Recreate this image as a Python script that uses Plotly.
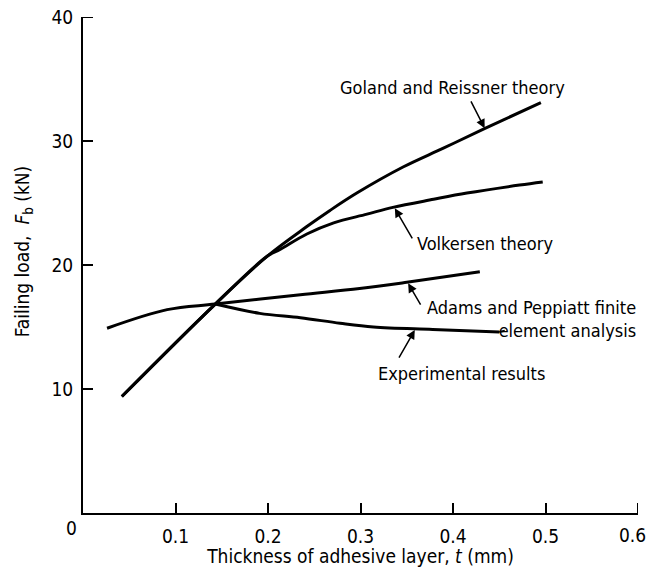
import plotly.graph_objects as go

# ---- data ----
goland_x = [0.042, 0.143, 0.199, 0.242, 0.267, 0.296, 0.346, 0.389, 0.434, 0.495]
goland_y = [9.4, 16.85, 20.7, 23.1, 24.4, 25.8, 27.9, 29.4, 31.0, 33.1]

volk_x = [0.042, 0.143, 0.199, 0.213, 0.242, 0.271, 0.307, 0.335, 0.379, 0.415, 0.472, 0.497]
volk_y = [9.4, 16.85, 20.7, 21.25, 22.5, 23.4, 24.1, 24.65, 25.3, 25.8, 26.45, 26.7]

adams_x = [0.026, 0.091, 0.143, 0.235, 0.299, 0.350, 0.429]
adams_y = [14.9, 16.4, 16.85, 17.6, 18.1, 18.6, 19.45]

exp_x = [0.143, 0.191, 0.235, 0.278, 0.314, 0.378, 0.450]
exp_y = [16.85, 16.1, 15.75, 15.3, 15.0, 14.8, 14.6]

x_ticks = [0.1, 0.2, 0.3, 0.4, 0.5, 0.6]
x_tick_labels = ["0.1", "0.2", "0.3", "0.4", "0.5", "0.6"]
y_ticks = [10, 20, 30, 40]
y_tick_labels = ["10", "20", "30", "40"]

X_MAX = 0.6
Y_MAX = 40
FONT = "DejaVu Sans Condensed, Liberation Sans Narrow, sans-serif"
TXT = dict(family=FONT, size=18, color="black")
AX = dict(family=FONT, size=19, color="black")

fig = go.Figure()
for xs, ys in [(goland_x, goland_y), (volk_x, volk_y), (adams_x, adams_y), (exp_x, exp_y)]:
    fig.add_trace(go.Scatter(x=xs, y=ys, mode="lines",
                             line=dict(color="black", width=3, shape="spline", smoothing=1.0),
                             showlegend=False, hoverinfo="skip"))

labels = [
    dict(text="Goland and Reissner theory", x=0.2756, y=34.35, xanchor="left"),
    dict(text="Volkersen theory", x=0.3587, y=21.75, xanchor="left"),
    dict(text="Adams and Peppiatt finite<br>element analysis", x=0.600, y=15.62, xanchor="right"),
    dict(text="Experimental results", x=0.3166, y=11.27, xanchor="left"),
]
for a in labels:
    fig.add_annotation(x=a["x"] / X_MAX, y=a["y"], xref="paper", yref="y",
                       text=a["text"], xanchor=a["xanchor"], align="right",
                       yanchor="middle", showarrow=False, font=TXT)

arrows = [
    (0.4186, 33.31, 0.4342, 31.03),
    (0.3569, 22.02, 0.3371, 24.57),
    (0.3659, 16.69, 0.3515, 18.52),
    (0.3407, 12.40, 0.3587, 14.76),
]
for tx, ty, hx, hy in arrows:
    fig.add_annotation(x=hx, y=hy, ax=tx, ay=ty, xref="x", yref="y", axref="x", ayref="y",
                       text="", showarrow=True, arrowhead=2, arrowsize=1.2,
                       arrowwidth=1.5, arrowcolor="black")

# dash joining experimental line end to second label line
fig.add_shape(type="line", x0=0.45, y0=14.6, x1=0.456, y1=14.7,
              line=dict(color="black", width=2))

# end ticks (plotly drops inside ticks sitting on the range ends)
fig.add_shape(type="line", xref="x", yref="y", xsizemode="pixel", xanchor=0,
              x0=0, x1=10, y0=Y_MAX, y1=Y_MAX, line=dict(color="black", width=2))
fig.add_shape(type="line", xref="x", yref="y", ysizemode="pixel", yanchor=0,
              y0=0, y1=10, x0=X_MAX, x1=X_MAX, line=dict(color="black", width=2))

# last x tick label kept inside the page edge
fig.add_annotation(x=1, y=0, xref="paper", yref="paper", text=x_tick_labels[-1],
                   showarrow=False, xanchor="right", yanchor="middle",
                   xshift=10, yshift=-22, font=AX)

# shared origin label
fig.add_annotation(x=0, y=0, text="0", xref="x", yref="y", showarrow=False,
                   xanchor="right", yanchor="top", xshift=-4, yshift=-2, font=AX)

# y-axis title as annotation
fig.add_annotation(x=0, y=21.1, xref="paper", yref="y",
                   text="Failing load,  <i>F</i><sub>b</sub> (kN)", textangle=-90,
                   showarrow=False, xanchor="center", yanchor="middle", xshift=-60,
                   font=AX)

fig.update_xaxes(range=[0, X_MAX], tickvals=x_ticks[:-1], ticktext=x_tick_labels[:-1],
                 ticks="inside", ticklen=10, tickwidth=2, tickcolor="black",
                 showline=True, linecolor="black", linewidth=2, mirror=False,
                 showgrid=False, zeroline=False, ticklabelstandoff=5,
                 automargin=False, tickfont=AX,
                 title=dict(text="Thickness of adhesive layer, <i>t</i> (mm)",
                            font=AX, standoff=6))
fig.update_yaxes(range=[0, Y_MAX], tickvals=y_ticks, ticktext=y_tick_labels,
                 ticks="inside", ticklen=10, tickwidth=2, tickcolor="black",
                 showline=True, linecolor="black", linewidth=2, mirror=False,
                 showgrid=False, zeroline=False, ticklabelstandoff=4,
                 ticklabeloverflow="allow", automargin=False,
                 tickfont=AX)

fig.update_layout(width=649, height=567, plot_bgcolor="white", paper_bgcolor="white",
                  margin=dict(l=83, r=11, t=17, b=54, autoexpand=False))

fig.write_html("out.html")
